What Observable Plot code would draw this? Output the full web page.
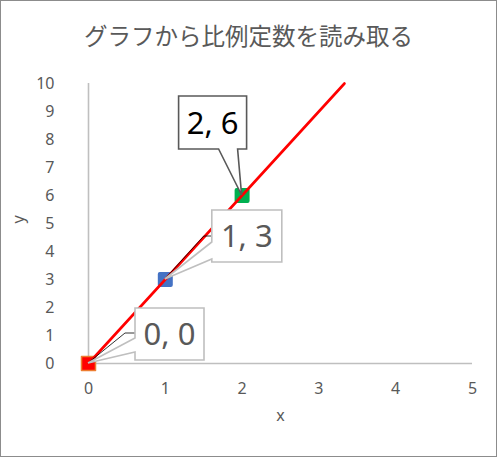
<!DOCTYPE html>
<html><head><meta charset="utf-8">
<script src="https://cdn.jsdelivr.net/npm/d3@7"></script>
<script src="https://cdn.jsdelivr.net/npm/@observablehq/plot@0.6"></script>
<style>
html,body{margin:0;padding:0;background:#fff;}
#wrap{position:relative;width:495px;height:455px;border:1px solid #8c8c8c;background:#fff;}
#title{position:absolute;left:0;top:19px;width:100%;text-align:center;font-family:"Noto Sans CJK JP";font-size:23.5px;line-height:30px;color:#595959;}
</style></head><body>
<div id="wrap"><div id="title"></div></div>
<script>
// ---- data ----
const title = "グラフから比例定数を読み取る";
const xs = [0, 1, 2];
const ys = [0, 3, 6];
const pointLabels = ["0, 0", "1, 3", "2, 6"];
const trendX = [0, 3.333];
const trendY = [0, 10];
const xTicks = [0, 1, 2, 3, 4, 5];
const yTicks = [0, 1, 2, 3, 4, 5, 6, 7, 8, 9, 10];
const xLabel = "x";
const yLabel = "y";

// ---- style / layout ----
const pointFill = ["#ff0000", "#4472c4", "#00b050"];
const pointStroke = ["#ed7d31", "#4472c4", "#00b050"];
const pointR = [7.9, 6.2, 6.2];
const pointSW = [1.5, 4, 4];
// callout geometry relative to the point, in pixels
const calloutLayout = [
  {box: [47, 116, -55, -3], side: "left", wedge: [-25, -11], leader: [37, -30], border: "#bfbfbf", text: "#595959"},
  {box: [47, 117, -69, -17], side: "left", wedge: [-37, -20], leader: [39, -43], border: "#bfbfbf", text: "#595959"},
  {box: [-63, 5, -99, -46], side: "bottom", wedge: [-23, -4], leader: null, border: "#595959", text: "#000000"}
];

document.getElementById("title").textContent = title;

const points = xs.map((x, i) => ({x, y: ys[i], label: pointLabels[i], i}));
const trend = trendX.map((x, i) => ({x, y: trendY[i]}));

function callouts(index, scales) {
  const g = d3.create("svg:g");
  points.forEach((p, i) => {
    const L = calloutLayout[i];
    const px = scales.x(p.x), py = scales.y(p.y);
    const [l, r, t, b] = L.box;
    if (L.leader) {
      const [lx, ly] = L.leader;
      g.append("path")
        .attr("d", `M${px + l},${py + ly}L${px + lx},${py + ly}L${px},${py}`)
        .attr("fill", "none").attr("stroke", "#000").attr("stroke-width", 0.8);
    }
    let d;
    if (L.side === "left") {
      const [w1, w2] = L.wedge;
      d = `M${px + l},${py + t}L${px + r},${py + t}L${px + r},${py + b}L${px + l},${py + b}L${px + l},${py + w2}L${px},${py}L${px + l},${py + w1}Z`;
    } else {
      const [w1, w2] = L.wedge;
      d = `M${px + l},${py + t}L${px + r},${py + t}L${px + r},${py + b}L${px + w2},${py + b}L${px},${py}L${px + w1},${py + b}L${px + l},${py + b}Z`;
    }
    g.append("path").attr("d", d).attr("fill", "#fff").attr("stroke", L.border).attr("stroke-width", 1.6).attr("stroke-linejoin", "miter");
    g.append("text")
      .attr("x", px + (l + r) / 2).attr("y", py + (t + b) / 2)
      .attr("text-anchor", "middle").attr("dy", "0.36em")
      .attr("font-family", "Noto Sans").attr("font-size", 31)
      .attr("fill", L.text).text(p.label);
  });
  return g.node();
}

const plot = Plot.plot({
  width: 495,
  height: 455,
  marginLeft: 87,
  marginRight: 24,
  marginTop: 82,
  marginBottom: 93,
  style: {fontFamily: "Noto Sans", fontSize: "16px", color: "#595959", background: "#fff", overflow: "visible"},
  x: {domain: [0, 5], ticks: xTicks, label: null},
  y: {domain: [0, 10], ticks: yTicks, label: null},
  r: {type: "identity"},
  color: {type: "identity"},
  marks: [
    Plot.axisX({ticks: xTicks, tickFormat: d3.format("d"), tickSize: 0, tickPadding: 19, fontSize: 16, label: null}),
    Plot.axisY({ticks: yTicks, tickFormat: d3.format("d"), tickSize: 0, tickPadding: 34, fontSize: 16, label: null}),
    Plot.ruleX([0], {stroke: "#bfbfbf", strokeWidth: 1.6}),
    Plot.ruleY([0], {stroke: "#bfbfbf", strokeWidth: 1.6}),
    Plot.dot(points, {x: "x", y: "y", symbol: "square", r: d => pointR[d.i], fill: d => pointFill[d.i], stroke: d => pointStroke[d.i], strokeWidth: d => pointSW[d.i], strokeLinejoin: "round"}),
    Plot.line(trend, {x: "x", y: "y", stroke: "#ff0000", strokeWidth: 2.6}),
    callouts,
    Plot.text([xLabel], {text: d => d, frameAnchor: "bottom", dy: 57, fontSize: 16, fill: "#595959"}),
    Plot.text([yLabel], {text: d => d, frameAnchor: "left", dx: -70, rotate: -90, fontSize: 16, fill: "#595959"})
  ]
});
document.getElementById("wrap").appendChild(plot);
</script>
</body></html>
